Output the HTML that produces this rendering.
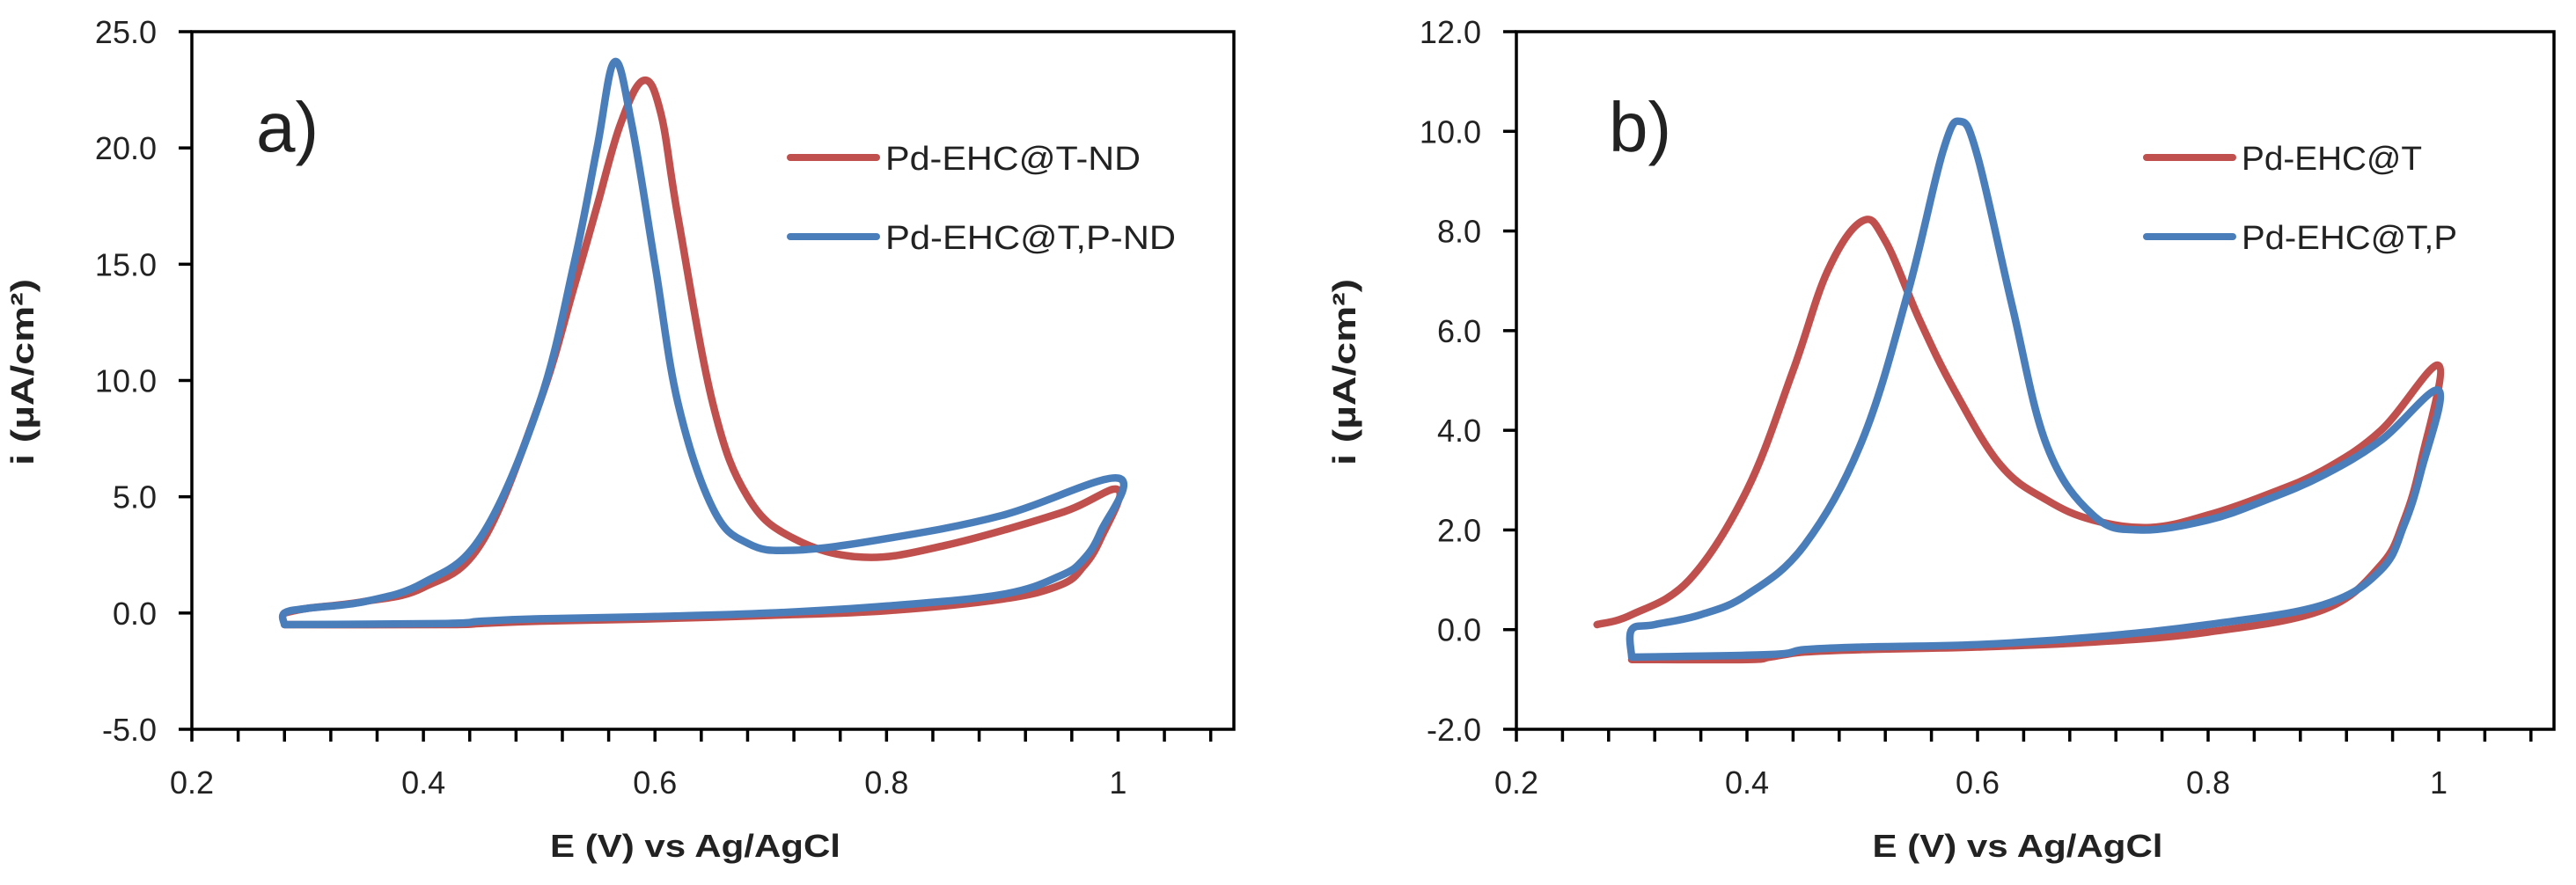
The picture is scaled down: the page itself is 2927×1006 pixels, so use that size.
<!DOCTYPE html>
<html><head><meta charset="utf-8"><style>
html,body{margin:0;padding:0;background:#fff;}
svg{display:block;}
text{font-family:"Liberation Sans",sans-serif;fill:#222;}
</style></head><body>
<svg id="svg" width="2927" height="1006" viewBox="0 0 2927 1006" xmlns="http://www.w3.org/2000/svg"></svg>
<script>
// Panel a data (E in V, i in uA/cm2)
const aRedE = [0.28,0.30,0.35,0.40,0.45,0.50,0.53,0.55,0.57,0.59,0.605,0.62,0.65,0.68,0.72,0.78,0.85,0.95,1.0, 0.985,0.97,0.95,0.9,0.8,0.7,0.6,0.5,0.45,0.42,0.28];
const aRedI = [0.0,0.2,0.5,1.1,3.0,9.0,14.0,17.5,21.0,22.9,21.5,17.0,9.0,5.0,3.2,2.4,2.9,4.3,5.3, 3.2,2.0,1.2,0.6,0.1,-0.1,-0.25,-0.35,-0.45,-0.5,-0.5];
const aBlueE = [0.28,0.28,0.30,0.35,0.40,0.45,0.50,0.53,0.55,0.565,0.58,0.60,0.62,0.65,0.68,0.72,0.8,0.9,1.0, 0.985,0.97,0.95,0.9,0.8,0.7,0.6,0.5,0.45,0.42,0.28];
const aBlueI = [-0.5,0.0,0.2,0.5,1.3,3.3,9.0,15.0,20.0,23.7,21.0,15.0,9.0,4.5,3.0,2.7,3.2,4.2,5.8, 3.5,2.3,1.6,0.8,0.3,0.0,-0.15,-0.25,-0.35,-0.45,-0.5];
// Panel b data
const bRedE = [0.27,0.30,0.35,0.40,0.44,0.47,0.50,0.52,0.55,0.58,0.62,0.66,0.70,0.75,0.80,0.85,0.90,0.95,1.0, 0.985,0.97,0.95,0.9,0.8,0.7,0.6,0.5,0.45,0.42,0.40,0.30];
const bRedI = [0.1,0.3,1.0,2.8,5.2,7.2,8.2,7.8,6.2,4.8,3.3,2.6,2.2,2.05,2.3,2.7,3.2,4.0,5.3, 3.4,2.2,1.3,0.4,-0.05,-0.25,-0.35,-0.4,-0.45,-0.55,-0.6,-0.6];
const bBlueE = [0.30,0.30,0.32,0.36,0.40,0.45,0.50,0.54,0.57,0.585,0.60,0.63,0.66,0.70,0.74,0.80,0.85,0.90,0.95,1.0, 0.985,0.97,0.95,0.9,0.8,0.7,0.6,0.5,0.45,0.42,0.30];
const bBlueI = [-0.55,0.0,0.1,0.3,0.7,1.7,3.8,6.8,9.6,10.2,9.5,6.5,3.7,2.3,2.0,2.2,2.6,3.1,3.8,4.8, 3.2,2.1,1.2,0.5,0.1,-0.15,-0.3,-0.35,-0.4,-0.5,-0.55];
const aTicksY = [-5,0,5,10,15,20,25];
const bTicksY = [-2,0,2,4,6,8,10,12];
const ticksX = [0.2,0.4,0.6,0.8,1];

const NS="http://www.w3.org/2000/svg";
const svg=document.getElementById('svg');
function el(tag,attrs,parent){const e=document.createElementNS(NS,tag);for(const k in attrs)e.setAttribute(k,attrs[k]);(parent||svg).appendChild(e);return e;}
function smoothPath(pts){
  let d='M'+pts[0][0].toFixed(1)+','+pts[0][1].toFixed(1);
  for(let i=0;i<pts.length-1;i++){
    const p0=pts[i-1]||pts[i],p1=pts[i],p2=pts[i+1],p3=pts[i+2]||p2;
    const t=0.18;
    const c1=[p1[0]+(p2[0]-p0[0])*t,p1[1]+(p2[1]-p0[1])*t];
    const c2=[p2[0]-(p3[0]-p1[0])*t,p2[1]-(p3[1]-p1[1])*t];
    d+=' C'+c1[0].toFixed(1)+','+c1[1].toFixed(1)+' '+c2[0].toFixed(1)+','+c2[1].toFixed(1)+' '+p2[0].toFixed(1)+','+p2[1].toFixed(1);
  }
  return d;
}
function panel(cfg){
  const g=el('g',{});
  
  
  const X=v=>cfg.x0+(v-0.2)/(1.1-0.2)*(cfg.x1-cfg.x0);
  const Y=v=>cfg.y1-(v-cfg.ymin)/(cfg.ymax-cfg.ymin)*(cfg.y1-cfg.y0);
  cfg.series.forEach(s=>{
    const pts=s.E.map((e,i)=>[X(e),Y(s.I[i])]);
    const p=el('path',{d:smoothPath(pts),fill:'none',stroke:s.color,'stroke-width':8.5,'stroke-linejoin':'round','stroke-linecap':'round'},g);
    
    
  });
  const fr=el('rect',{x:cfg.x0,y:cfg.y0,width:cfg.x1-cfg.x0,height:cfg.y1-cfg.y0,fill:'none',stroke:'#000','stroke-width':3.5},g);
  
  
  cfg.ticksY.forEach(v=>{
    el('line',{x1:cfg.x0-15,x2:cfg.x0,y1:Y(v),y2:Y(v),stroke:'#000','stroke-width':3.5},g);
    const t=el('text',{x:cfg.x0-40,y:Y(v)+13,'text-anchor':'end','font-size':36},g);
    t.textContent=v.toFixed(1);
    
    
  });
  for(let k=0;k<=22;k++){
    const v=0.2+k*0.04; if(v>1.1)break;
    el('line',{x1:X(v),x2:X(v),y1:cfg.y1,y2:cfg.y1+14,stroke:'#000','stroke-width':3.5},g);
  }
  ticksX.forEach(v=>{
    const t=el('text',{x:X(v),y:cfg.y1+73,'text-anchor':'middle','font-size':36},g);
    t.textContent=String(v);
    
    
  });
  const xt=el('text',{x:(cfg.x0+cfg.x1)/2-20,y:974,'text-anchor':'middle','font-size':36,'font-weight':'bold',textLength:330,lengthAdjust:'spacingAndGlyphs'},g);
  xt.textContent='E (V) vs Ag/AgCl';
  
  
  const yt=el('text',{x:0,y:0,'text-anchor':'middle','font-size':36,'font-weight':'bold',textLength:212,lengthAdjust:'spacingAndGlyphs',transform:'translate('+(cfg.ytx)+',423) rotate(-90)'},g);
  yt.textContent='i (µA/cm²)';
  
  
  const pl=el('text',{x:cfg.labx,y:172,'font-size':80},g);
  pl.textContent=cfg.label;
  
  
  cfg.series.forEach((s,i)=>{
    const ly=179+i*90;
    const ll=el('line',{x1:cfg.legx,x2:cfg.legx+98,y1:ly,y2:ly,stroke:s.color,'stroke-width':8,'stroke-linecap':'round'},g);
    
    
    const lt=el('text',{x:cfg.legx+108,y:ly+14,'font-size':38,textLength:s.tl,lengthAdjust:'spacingAndGlyphs'},g);
    lt.textContent=s.label;
    
    
  });
}
panel({name:'chart-a',x0:218,x1:1402,y0:36,y1:829,ymin:-5,ymax:25,ticksY:aTicksY,label:'a)',labx:291,legx:898,ytx:38,
  series:[{E:aRedE,I:aRedI,color:'#c0504d',dn:'series-pd-ehc-t-nd',label:'Pd-EHC@T-ND',tl:290},
          {E:aBlueE,I:aBlueI,color:'#4a7ebb',dn:'series-pd-ehc-tp-nd',label:'Pd-EHC@T,P-ND',tl:330}]});
panel({name:'chart-b',x0:1723,x1:2902,y0:36,y1:829,ymin:-2,ymax:12,ticksY:bTicksY,label:'b)',labx:1828,legx:2439,ytx:1540,
  series:[{E:bRedE,I:bRedI,color:'#c0504d',dn:'series-pd-ehc-t',label:'Pd-EHC@T',tl:205},
          {E:bBlueE,I:bBlueI,color:'#4a7ebb',dn:'series-pd-ehc-tp',label:'Pd-EHC@T,P',tl:245}]});
</script>
</body></html>
